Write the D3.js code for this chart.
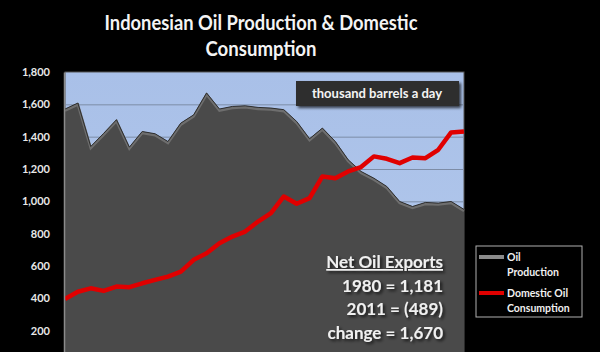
<!DOCTYPE html>
<html>
<head>
<meta charset="utf-8">
<script src="https://cdn.jsdelivr.net/npm/d3@7"></script>
<style>
  html, body { margin: 0; padding: 0; background: #000; }
  svg { display: block; font-family: Lato, "Open Sans", sans-serif; font-weight: 700; }
</style>
</head>
<body>
<svg id="chart" width="600" height="352"></svg>
<script>
'use strict';

// data (thousand barrels a day)
const YEARS = d3.range(1980, 2012);
const PRODUCTION = [1571, 1608, 1339, 1420, 1505, 1335, 1432, 1418, 1370, 1484,
    1535, 1670, 1571, 1587, 1591, 1581, 1577, 1567, 1494, 1387,
    1453, 1370, 1257, 1185, 1143, 1092, 999, 968, 993, 989,
    999, 950];
const CONSUMPTION = [396, 441, 462, 446, 473, 469, 493, 514, 534, 565,
    638, 679, 741, 782, 813, 875, 927, 1030, 985, 1020,
    1154, 1143, 1185, 1212, 1278, 1263, 1236, 1271, 1267, 1319,
    1426, 1432];
const Y_TICKS = [200, 400, 600, 800, 1000, 1200, 1400, 1600, 1800];
const TITLE_LINES = ['Indonesian Oil Production & Domestic', 'Consumption'];
const NOTE_LINES = ['Net Oil Exports', '1980 = 1,181', '2011 = (489)', 'change = 1,670'];
const LEGEND_ITEMS = [
    { label: ['Oil', 'Production'], color: '#8a8a8a' },
    { label: ['Domestic Oil', 'Consumption'], color: '#e00000' },
];

const svg = d3.select('#chart');

const LEFT = 65, RIGHT = 464, TOP = 72, ZERO_Y = 363;

const x = d3.scaleLinear().domain([1980, 2011]).range([LEFT, RIGHT]);
const y = d3.scaleLinear().domain([0, 1800]).range([ZERO_Y, TOP]);

// shadow filter
const defs = svg.append('defs');
const sh = defs.append('filter').attr('id', 'shadow').attr('x', '-10%').attr('y', '-30%').attr('width', '130%').attr('height', '170%');
sh.append('feDropShadow').attr('dx', 2).attr('dy', 2).attr('stdDeviation', 1.5).attr('flood-color', '#000').attr('flood-opacity', 0.7);

const bg = defs.append('linearGradient').attr('id', 'plotbg').attr('x1', 0).attr('y1', 0).attr('x2', 0).attr('y2', 1);
bg.append('stop').attr('offset', '0%').attr('stop-color', '#a9c0e8');
bg.append('stop').attr('offset', '100%').attr('stop-color', '#b3c9ec');

// title (Calibri-like width, squeezed a little)
svg.append('g').selectAll('text').data(TITLE_LINES).join('text')
    .attr('x', 261).attr('y', (d, i) => 30 + i * 26)
    .attr('text-anchor', 'middle')
    .attr('fill', '#f4f4f4').attr('font-size', 20)
    .attr('textLength', (d, i) => i === 0 ? 313 : 111)
    .attr('lengthAdjust', 'spacingAndGlyphs')
    .text(d => d);

// plot background
svg.append('rect')
    .attr('x', LEFT).attr('y', TOP)
    .attr('width', RIGHT - LEFT).attr('height', ZERO_Y - TOP)
    .attr('fill', 'url(#plotbg)')
    .attr('stroke', '#555').attr('stroke-width', 1);

// gridlines
svg.append('g')
    .attr('transform', `translate(${LEFT},0)`)
    .call(d3.axisLeft(y).tickValues(Y_TICKS.slice(0, -1)).tickSize(-(RIGHT - LEFT)).tickFormat(''))
    .call(g => g.select('.domain').remove())
    .call(g => g.selectAll('line').attr('stroke', '#7d8ca6').attr('stroke-width', 1));

// production area
const area = d3.area().x((d, i) => x(YEARS[i])).y0(ZERO_Y).y1(d => y(d));
const topLine = d3.line().x((d, i) => x(YEARS[i])).y(d => y(d));

svg.append('path').datum(PRODUCTION)
    .attr('d', area)
    .attr('fill', '#4a4a4a');
svg.append('path').datum(PRODUCTION)
    .attr('d', topLine)
    .attr('transform', 'translate(0,1.5)')
    .attr('fill', 'none').attr('stroke', '#6e6e6e').attr('stroke-width', 2.5);
svg.append('path').datum(PRODUCTION)
    .attr('d', topLine)
    .attr('fill', 'none').attr('stroke', '#2e2e2e').attr('stroke-width', 1);

// consumption line
svg.append('path').datum(CONSUMPTION)
    .attr('d', d3.line().x((d, i) => x(YEARS[i])).y(d => y(d)))
    .attr('fill', 'none').attr('stroke', '#e00000')
    .attr('stroke-width', 4.5).attr('stroke-linejoin', 'round');

// y axis
svg.append('g')
    .attr('transform', `translate(${LEFT - 1},0)`)
    .call(d3.axisLeft(y).tickValues(Y_TICKS).tickSize(0).tickPadding(14).tickFormat(d3.format(',')))
    .call(g => g.select('.domain').attr('stroke', '#8a8a8a').attr('stroke-width', 1.5))
    .call(g => g.selectAll('text')
        .attr('fill', '#e8e8e8').attr('font-size', 11)
        .attr('font-family', 'Lato, sans-serif').attr('font-weight', 700));

// units box
svg.append('rect')
    .attr('x', 296).attr('y', 81).attr('width', 163).attr('height', 25)
    .attr('fill', '#2e2e2e').attr('filter', 'url(#shadow)');
svg.append('text')
    .attr('x', 377).attr('y', 98).attr('text-anchor', 'middle')
    .attr('fill', '#f4f4f4').attr('font-size', 13)
    .text('thousand barrels a day');

// net exports note
svg.append('g').attr('filter', 'url(#shadow)')
    .selectAll('text').data(NOTE_LINES).join('text')
    .attr('x', 443).attr('y', (d, i) => 268 + i * 23.7)
    .attr('text-anchor', 'end')
    .attr('fill', '#f0f0f0').attr('font-size', 17)
    .attr('text-decoration', (d, i) => i === 0 ? 'underline' : null)
    .text(d => d);

// legend
const legend = svg.append('g');
legend.append('rect')
    .attr('x', 476).attr('y', 246).attr('width', 106).attr('height', 71)
    .attr('fill', '#000').attr('stroke', '#b0b0b0').attr('stroke-width', 1);
const item = legend.selectAll('g.item').data(LEGEND_ITEMS).join('g')
    .attr('class', 'item')
    .attr('transform', (d, i) => `translate(0,${i * 36})`);
item.append('line')
    .attr('x1', 479).attr('x2', 504).attr('y1', 257).attr('y2', 257)
    .attr('stroke', d => d.color).attr('stroke-width', 4);
item.append('text')
    .attr('fill', '#f0f0f0').attr('font-size', 10.5)
    .selectAll('tspan').data(d => d.label).join('tspan')
    .attr('x', 507).attr('y', (d, i) => 261 + i * 15)
    .text(d => d);
</script>
</body>
</html>
